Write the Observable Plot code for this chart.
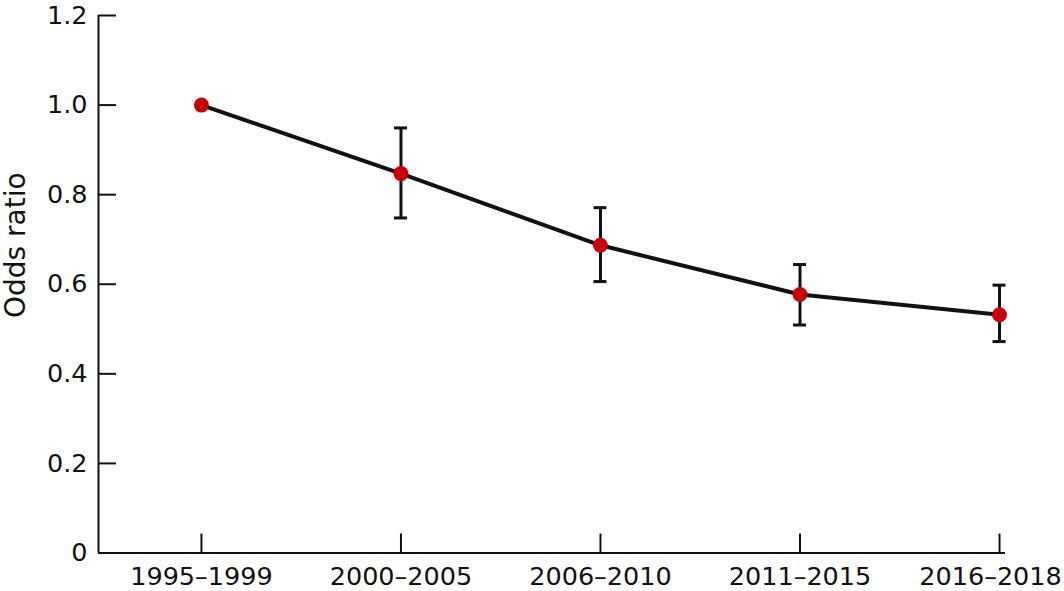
<!DOCTYPE html>
<html>
<head>
<meta charset="utf-8">
<script src="https://cdn.jsdelivr.net/npm/d3@7"></script>
<script src="https://cdn.jsdelivr.net/npm/@observablehq/plot@0.6"></script>
<style>
  html, body { margin: 0; padding: 0; background: #fff; }
  #chart svg { display: block; }
</style>
</head>
<body>
<div id="chart"></div>
<script>
const periods = ["1995–1999", "2000–2005", "2006–2010", "2011–2015", "2016–2018"];
const oddsRatio = [1.0, 0.847, 0.687, 0.577, 0.532];
const lowerCI = [null, 0.748, 0.606, 0.509, 0.472];
const upperCI = [null, 0.949, 0.771, 0.644, 0.598];
const yTicks = [0, 0.2, 0.4, 0.6, 0.8, 1.0, 1.2];
const yTickLabels = ["0", "0.2", "0.4", "0.6", "0.8", "1.0", "1.2"];
const yLabel = "Odds ratio";

const data = periods.map((p, i) => ({i, period: p, or: oddsRatio[i], lo: lowerCI[i], hi: upperCI[i]}));
const bars = data.filter(d => d.lo != null);
const xDomain = [-0.516, 4.03];
const ink = "#111";
const red = "#c8000a";
const idx = d3.range(periods.length);
const last = periods.length - 1;

const chart = Plot.plot({
  width: 1064,
  height: 591,
  marginLeft: 98,
  marginRight: 59,
  marginTop: 15,
  marginBottom: 38.5,
  style: {fontFamily: "DejaVu Sans", fontSize: "25.5px", color: ink, background: "#fff"},
  x: {type: "linear", domain: xDomain},
  y: {domain: [0, 1.2]},
  marks: [
    Plot.axisY({ticks: yTicks, tickSize: 0, tickPadding: 11, tickFormat: (d) => yTickLabels[yTicks.indexOf(d)] ?? d3.format(".1f")(d), label: null, fill: ink}),
    Plot.axisY({ticks: yTicks, tickSize: -18, tickFormat: () => "", label: null, strokeWidth: 2, stroke: ink}),
    Plot.axisX({ticks: idx.slice(0, last), tickSize: 0, tickPadding: 14, tickFormat: (d) => periods[d], label: null, fill: ink}),
    Plot.axisX({ticks: [last], tickSize: 0, tickPadding: 14, dx: -9, tickFormat: (d) => periods[d], label: null, fill: ink}),
    Plot.axisX({ticks: idx, tickSize: -19, tickFormat: () => "", label: null, strokeWidth: 2, stroke: ink}),
    Plot.ruleY([0], {stroke: ink, strokeWidth: 2}),
    Plot.ruleX([xDomain[0]], {stroke: ink, strokeWidth: 2}),
    Plot.text([yLabel], {frameAnchor: "left", rotate: -90, textAnchor: "middle", lineAnchor: "middle", dx: -82, dy: -39, fontSize: 28, fill: ink}),
    Plot.line(data, {x: "i", y: "or", stroke: ink, strokeWidth: 4}),
    Plot.ruleX(bars, {x: "i", y1: "lo", y2: "hi", stroke: ink, strokeWidth: 3}),
    Plot.ruleY(bars, {y: "hi", x1: "i", x2: "i", insetLeft: -6.5, insetRight: -6.5, stroke: ink, strokeWidth: 3}),
    Plot.ruleY(bars, {y: "lo", x1: "i", x2: "i", insetLeft: -6.5, insetRight: -6.5, stroke: ink, strokeWidth: 3}),
    Plot.dot(data, {x: "i", y: "or", r: 7.5, fill: red, stroke: null})
  ]
});
document.getElementById("chart").appendChild(chart);
</script>
</body>
</html>
